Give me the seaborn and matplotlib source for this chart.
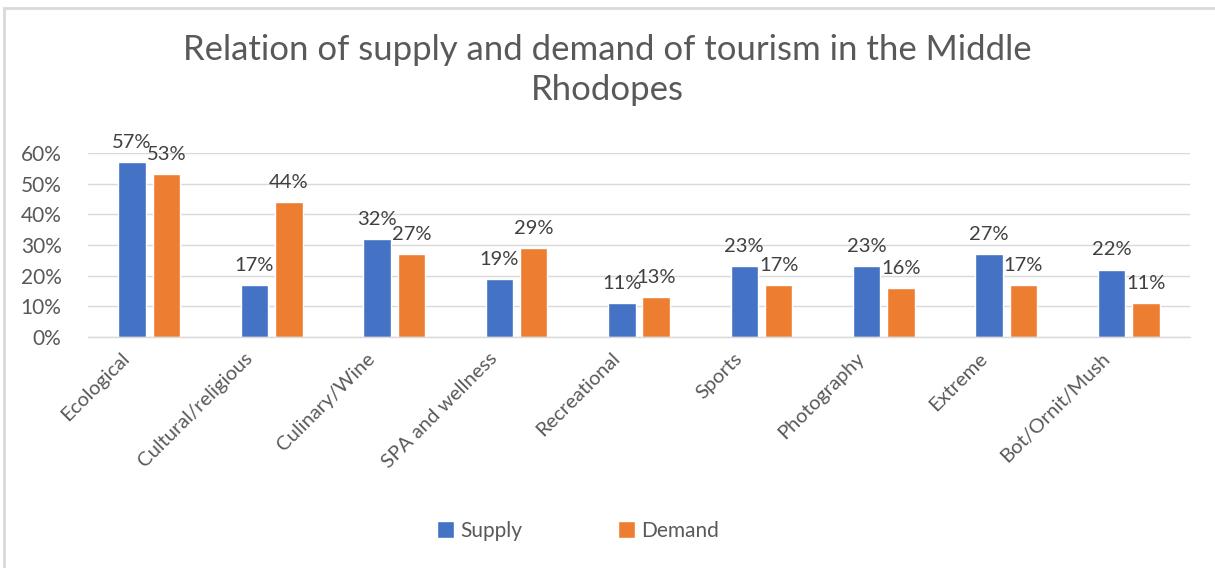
import matplotlib
matplotlib.use("Agg")
import matplotlib.pyplot as plt
import matplotlib.transforms as mtransforms
from matplotlib.patches import Rectangle, Patch
import seaborn as sns
import pandas as pd

categories = ["Ecological", "Cultural/religious", "Culinary/Wine", "SPA and wellness",
              "Recreational", "Sports", "Photography", "Extreme", "Bot/Ornit/Mush"]
supply = [0.57, 0.17, 0.32, 0.19, 0.11, 0.23, 0.23, 0.27, 0.22]
demand = [0.53, 0.44, 0.27, 0.29, 0.13, 0.17, 0.16, 0.17, 0.11]
series = ["Supply", "Demand"]
yticks = [0, 0.1, 0.2, 0.3, 0.4, 0.5, 0.6]
title = "Relation of supply and demand of tourism in the Middle\nRhodopes"

colors = {"Supply": "#4472C4", "Demand": "#ED7D31"}
text_gray = "#595959"
grid_gray = "#d9d9d9"

df = pd.DataFrame({
    "Category": categories * 2,
    "Series": ["Supply"] * len(categories) + ["Demand"] * len(categories),
    "Value": supply + demand,
})

sns.set_theme(style="white")
plt.rcParams["font.family"] = ["Lato", "DejaVu Sans"]

fig = plt.figure(figsize=(12.15, 5.68), dpi=100)
ax = fig.add_axes([88 / 1215, 1 - 337 / 568, (1190 - 88) / 1215, (337 - 153) / 568])

sns.barplot(data=df, x="Category", y="Value", hue="Series", order=categories,
            hue_order=series, palette=colors, width=0.56, gap=0.2, ax=ax,
            saturation=1, errorbar=None, legend=False)

ax.set_ylim(0, 0.6)
ax.set_yticks(yticks)
ax.set_yticklabels([f"{int(round(t * 100))}%" for t in yticks], color=text_gray, fontsize=15)
ax.yaxis.grid(True, color=grid_gray, linewidth=1)
ax.set_axisbelow(True)
ax.tick_params(axis="y", length=0, pad=19)
ax.tick_params(axis="x", length=0, pad=9)
for s in ["left", "right", "top"]:
    ax.spines[s].set_visible(False)
ax.spines["bottom"].set_color(grid_gray)
ax.spines["bottom"].set_linewidth(1)
ax.set_xlabel("")
ax.set_ylabel("")

offset = mtransforms.ScaledTranslation(-28 / 100, 0, fig.dpi_scale_trans)
ax.set_xticks(range(len(categories)))
ax.set_xticklabels(categories, rotation=45, ha="right", rotation_mode="anchor",
                   color=text_gray, fontsize=14.5)
for lbl in ax.get_xticklabels():
    lbl.set_transform(lbl.get_transform() + offset)

for cont in ax.containers:
    ax.bar_label(cont, labels=[f"{int(round(v * 100))}%" for v in cont.datavalues],
                 padding=8, fontsize=14.5, color="#404040")

ax.set_xlim(-0.5, len(categories) - 0.5)

fig.text(0.5, 1 - 70 / 568, title, ha="center", va="center", fontsize=25,
         color=text_gray, linespacing=1.3)

handles = [Patch(facecolor=colors[s], label=s) for s in series]
fig.legend(handles=handles, loc="center", bbox_to_anchor=(578 / 1215, 1 - 531 / 568),
           ncol=2, frameon=False, fontsize=15, labelcolor=text_gray,
           handlelength=0.8, handleheight=0.9, handletextpad=0.3, columnspacing=4.6)

fig.patches.append(Rectangle((4 / 1215, -0.01), 1.02, 1 - 8 / 568 + 0.01,
                             transform=fig.transFigure, fill=False,
                             edgecolor=grid_gray, linewidth=2, zorder=-1))

fig.savefig("out.png", dpi=100)
